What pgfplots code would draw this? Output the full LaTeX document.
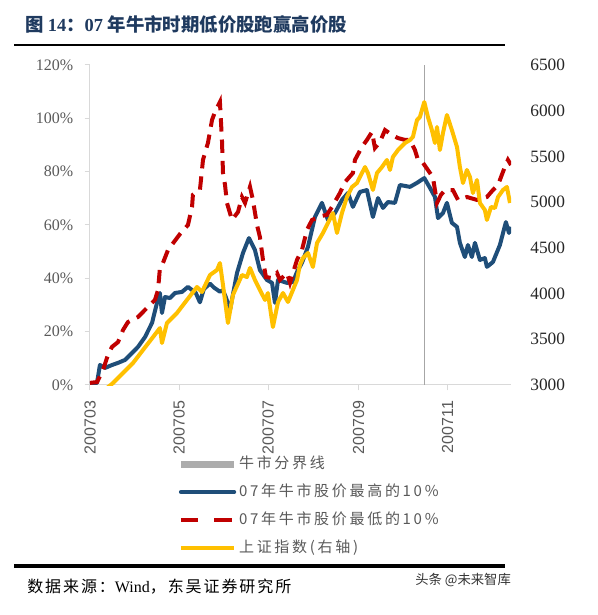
\documentclass[border=0pt]{standalone}
\usepackage{pgfplots}
\pgfplotsset{compat=1.18}
\usepackage{fontspec}
\setmainfont{Liberation Serif}
\newfontfamily\cjk{Noto Sans CJK SC}
\newfontfamily\cjkfoot{Noto Sans CJK SC}[LetterSpace=12]
\newfontfamily\cjkleg{Noto Sans CJK SC}[LetterSpace=18]
\newfontfamily\arial{Liberation Sans}

\definecolor{navy}{HTML}{1F3A5F}
\definecolor{hiblue}{HTML}{1F4E79}
\definecolor{lored}{HTML}{C00000}
\definecolor{ssegold}{HTML}{FFC000}
\definecolor{axgray}{HTML}{D9D9D9}
\definecolor{txtgray}{HTML}{595959}
\definecolor{divgray}{HTML}{A6A6A6}

% x = calendar days since 2007-03-01
\pgfplotstableread{
d p
0 0.5
4.8 0.8
6.8 7.5
10.3 6.4
15.1 7.5
19.2 8.3
24 9.4
28.8 12
32.9 14.3
37.7 18
42.5 23.3
45.9 30.8
47.9 34.5
49.3 27
51.4 33
54.8 32.6
58.2 34.5
63 34.9
67.1 36.8
69.9 35.6
72.5 34.5
75.3 31
78 36
82.2 38
85 36.5
89 35
91.1 35.5
93 33
95.9 28.1
100.7 42
104.8 49.5
108.9 55.1
113 50.6
116.4 43.1
121.2 39.4
124.7 38.3
126.7 30.8
128.8 39.4
134.9 38.3
139 38.6
141.8 42.4
145.2 45.8
149.3 51.8
154.1 63
158.9 68.3
163 61.9
167.8 64.5
172.6 69.4
176.7 72
180.1 66.8
184.9 72.4
189.7 73.1
193.8 63
197.3 70.1
200.7 66.4
204.1 68.6
208.9 68.3
212.3 75
219.2 74.3
224 75.8
229 77.6
232.9 73.9
236.3 70.5
238.4 62.6
241.8 64.5
244.5 68.3
247.9 60.8
251.4 59.3
253.4 53.3
256.8 48
258.9 52.5
261.6 48
263.7 53.3
267.1 46.9
270.5 47.6
271.9 44.3
276 46.1
280.8 52.5
284.9 61.1
287 57
288.4 59.3
}\hightable

\pgfplotstableread{
d p
0 0.8
4.8 1.1
8.9 5.6
12.3 11.3
15.1 14.3
19.2 16.1
22.6 20.6
26 23.6
32.9 25.5
39 28.9
44.5 31.9
46.6 35.6
47.9 43.9
50 45.8
53.4 50.6
61.6 56.6
67.1 60
69.9 66.8
70.5 71.3
75.3 73.1
77.4 84.4
80.8 90.8
83.6 99.4
85.6 102.4
89 106.1
90.4 91.9
91.1 79.5
92.5 75
93.8 68.3
97.3 61.9
101.4 64.9
104.1 70.5
106.2 68.3
109.6 74.3
111.6 69.4
114.4 60
116.4 55.5
118.5 46.9
120.5 40.5
124.7 40.1
128.1 42
130.1 39.4
134.9 42
137 38.3
141.8 46.9
145.2 50.6
148.6 58.1
152.1 61.9
155.5 62.6
158.9 63.4
162.3 63.8
165.8 66.8
171.2 72
174.7 76.1
180.1 79.5
181.5 84.4
186.3 89.3
189.7 91.9
193.2 94.9
195.2 88.9
198.6 91.1
202.1 95.6
206.8 93.8
211 92.6
215.8 91.9
219.2 91.9
222.6 88.1
224.7 84.4
228.1 83.3
232.9 79.5
234.9 78
237.7 68.3
240.4 71.3
243.2 73.1
248.6 73.1
252.1 69.4
258.2 70.5
265.1 69.4
271.9 70.5
276 73.1
279.5 75
284.2 81.8
286.3 84.4
288.4 82.5
}\lowtable

\pgfplotstableread{
d idx
4.8 2830
9 2910
11.6 2967
15.8 3022
22.6 3131
29.5 3241
36.3 3383
43.2 3525
47.9 3623
49.3 3459
52.7 3678
59.6 3788
66.4 3930
73.3 4072
76.7 4017
82.2 4203
87 4258
89 4334
91.1 4094
94.5 3678
97.9 3984
104.1 4203
107.5 4181
109.6 4280
113 4148
116.4 4039
119.9 3930
121.9 4006
125.3 3634
128.8 3908
132.2 4006
135.6 3908
139 4039
141.8 4148
143.8 4313
145.9 4389
149.3 4444
152.7 4291
155.5 4553
159.6 4663
163 4772
166.4 4881
169.2 4663
172.6 4881
176 5056
179.5 5166
182.9 5209
184.9 5275
188.4 5384
190.4 5319
193.8 5133
196.6 5319
200 5384
203.4 5461
205.5 5352
207.5 5494
211 5570
215.8 5647
219.2 5680
221.2 5713
224 5898
226 5931
229 6095
231.5 5931
234.2 5789
236.3 5647
237.7 5822
239.7 5570
241.8 5756
244.5 5953
247.9 5789
251.4 5603
253.4 5384
255.5 5209
258.2 5352
260.3 5275
262.3 5100
265.1 5242
267.1 4991
270.5 4914
271.9 4805
274.7 4947
277.4 4936
279.5 5056
282.9 5133
285.6 5166
287.7 4991
}\ssetable

\begin{document}
\begin{tikzpicture}
\path[use as bounding box] (0pt,0pt) rectangle (448.5pt,461.25pt);

% heading and rules
\node[anchor=west, inner sep=0pt, text=navy] at (18.75pt,443.25pt)
  {\fontsize{13.8}{16}\selectfont{\cjk\bfseries 图 }\textbf{14}{\cjk\bfseries ：}\textbf{07} {\cjk\bfseries 年牛市时期低价股跑赢高价股}};
\draw[line width=1.8pt] (10.5pt,427.5pt) -- (378.75pt,427.5pt);
\draw[line width=2.5pt] (10.5pt,36.75pt) -- (378.75pt,36.75pt);

% footer
\node[anchor=west, inner sep=0pt] at (20.25pt,21pt)
  {\fontsize{12}{14}\selectfont{\cjkfoot 数据来源：}Wind{\cjkfoot ，东吴证券研究所}};
\node[anchor=west, inner sep=0pt, text=black!80] at (311.25pt,26.25pt)
  {\cjk\fontsize{10}{12}\selectfont 头条 @未来智库};

% left axis: relative performance of the two groups
\begin{axis}[
  at={(67.5pt,172.5pt)}, anchor=south west,
  scale only axis, width=315.75pt, height=240pt,
  xmin=0, xmax=288.4, ymin=0, ymax=120,
  axis x line*=bottom, axis y line*=left,
  axis line style={-, axgray, line width=0.75pt},
  xtick={0,61,122,184,245},
  xticklabels={200703,200705,200707,200709,200711},
  x tick label style={rotate=90, anchor=east, font=\arial\fontsize{12}{12}\selectfont, text=txtgray},
  xticklabel shift=4.5pt,
  ytick={0,20,40,60,80,100,120},
  yticklabels={0\%,20\%,40\%,60\%,80\%,100\%,120\%},
  y tick label style={font=\fontsize{12}{12}\selectfont, text=txtgray},
  yticklabel shift=5pt,
  tick style={axgray, line width=0.75pt},
  tick align=outside, major tick length=4pt,
  clip=true,
]
\addplot[divgray, line width=0.8pt, forget plot] coordinates {(229,0) (229,120)};
\addplot[hiblue, line width=3pt, line join=round] table[x=d, y=p] {\hightable};
\addplot[lored, line width=3pt, dash pattern=on 10pt off 6pt] table[x=d, y=p] {\lowtable};
\end{axis}

% right axis: Shanghai Composite
\begin{axis}[
  at={(67.5pt,172.5pt)}, anchor=south west,
  scale only axis, width=315.75pt, height=240pt,
  xmin=0, xmax=288.4, ymin=3000, ymax=6500,
  axis x line=none, axis y line*=right,
  axis line style={draw=none},
  ytick={3000,3500,4000,4500,5000,5500,6000,6500},
  yticklabels={3000,3500,4000,4500,5000,5500,6000,6500},
  y tick label style={font=\fontsize{13}{13}\selectfont, text=black!85},
  yticklabel shift=11pt,
  major tick length=0pt,
  clip=true,
  legend image code/.code={\draw[#1] (0pt,0pt) -- (40pt,0pt);},
  legend style={at={(0.207,-0.219)}, anchor=north west, draw=none, fill=none,
    font=\cjkleg\fontsize{11.25}{13}\selectfont, text=txtgray,
    inner sep=0pt, row sep=8pt,
    nodes={inner sep=1pt, text height=8.5pt, text depth=2.5pt}},
  legend cell align=left,
]
\addlegendimage{gray!65, line width=5.25pt}
\addlegendentry{牛市分界线}
\addlegendimage{hiblue, line width=3pt, line cap=round}
\addlegendentry{07年牛市股价最高的10\%}
\addlegendimage{lored, line width=3pt, dash pattern=on 13pt off 12pt}
\addlegendentry{07年牛市股价最低的10\%}
\addplot[ssegold, line width=3pt, line join=round] table[x=d, y=idx] {\ssetable};
\addlegendentry{上证指数(右轴)}
\end{axis}
\end{tikzpicture}
\end{document}
